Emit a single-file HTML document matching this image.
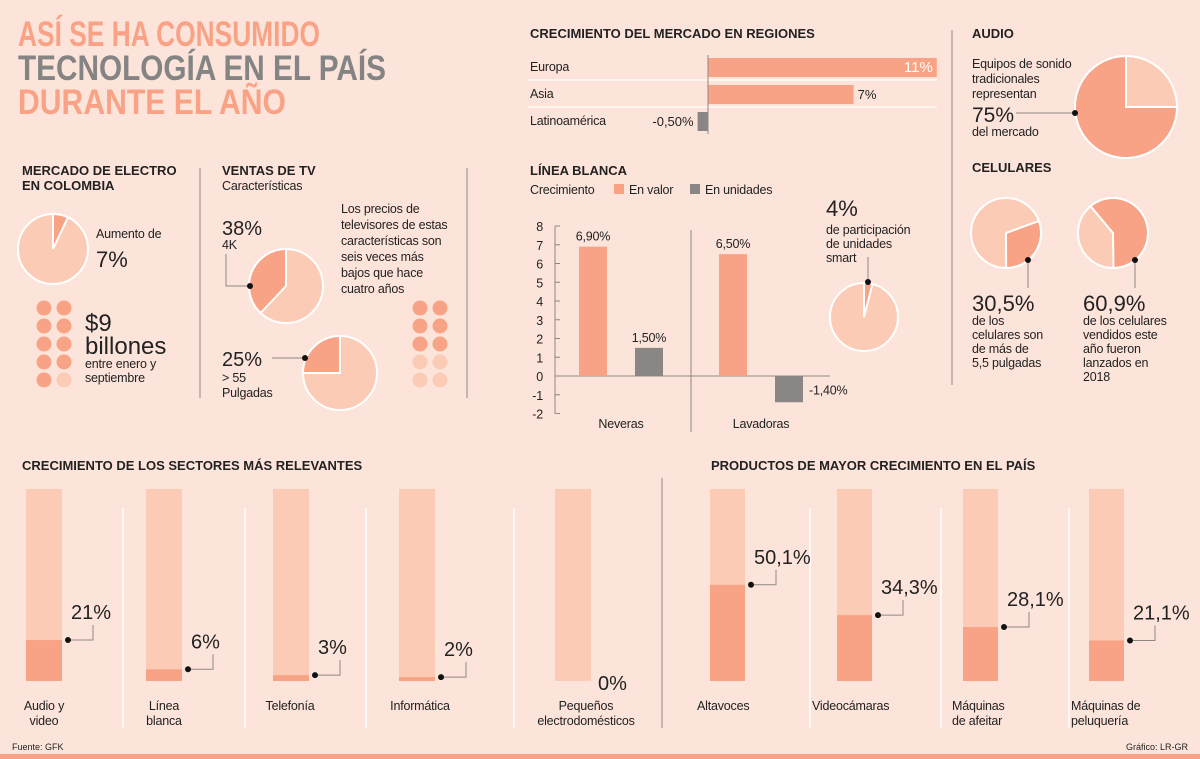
<!DOCTYPE html>
<html><head><meta charset="utf-8"><style>
html,body{margin:0;padding:0;background:#fde4da;}
svg{display:block;font-family:"Liberation Sans",sans-serif;}
.h{font-weight:bold;font-size:13px;fill:#222;}
.t{font-size:12.5px;fill:#222;letter-spacing:-0.2px;}
</style></head><body>
<svg id="s" width="1200" height="759" viewBox="0 0 1200 759">
<rect width="1200" height="759" fill="#fde4da"/>
<g font-weight="bold" font-size="35">
<text x="18" y="46" fill="#f9a285" textLength="302" lengthAdjust="spacingAndGlyphs">ASÍ SE HA CONSUMIDO</text>
<text x="18" y="80" fill="#848484" textLength="368" lengthAdjust="spacingAndGlyphs">TECNOLOGÍA EN EL PAÍS</text>
<text x="18" y="114" fill="#f9a285" textLength="268" lengthAdjust="spacingAndGlyphs">DURANTE EL AÑO</text>
</g>
<g id="dividers" stroke="#8d8784" stroke-width="1">
<line x1="200" y1="168" x2="200" y2="398"/><line x1="467" y1="168" x2="467" y2="398"/>
<line x1="952" y1="30" x2="952" y2="385"/><line x1="662" y1="478" x2="662" y2="728"/>
</g>
<g id="reg"><text class="h" x="530" y="38">CRECIMIENTO DEL MERCADO EN REGIONES</text></g>
<g id="lb">
<text class="h" x="530" y="175">LÍNEA BLANCA</text>
<text class="t" x="530" y="194">Crecimiento</text>
<rect x="614" y="184" width="10" height="10" fill="#f9a386"/><text class="t" x="629" y="194">En valor</text>
<rect x="690" y="184" width="10" height="10" fill="#8a8685"/><text class="t" x="705" y="194">En unidades</text>
</g>
<g>
<text x="826" y="216" font-size="22" fill="#222">4%</text>
<text class="t" x="826" y="234">de participación</text><text class="t" x="826" y="248">de unidades</text><text class="t" x="826" y="262">smart</text>
<line x1="868" y1="257" x2="868" y2="282" stroke="#8d8784"/>
</g>
<g>
<text class="h" x="972" y="38">AUDIO</text>
<text class="t" x="972" y="68" font-size="12">Equipos de sonido</text><text class="t" x="972" y="83" font-size="12">tradicionales</text><text class="t" x="972" y="98" font-size="12">representan</text>
<text x="972" y="122" font-size="21" fill="#222">75%</text><text class="t" x="972" y="136">del mercado</text>
<line x1="1016" y1="113" x2="1075" y2="113" stroke="#8d8784"/>
<text class="h" x="972" y="172">CELULARES</text>
<text x="972" y="311" font-size="22" fill="#222">30,5%</text>
<text class="t" x="972" y="325">de los</text><text class="t" x="972" y="339">celulares son</text><text class="t" x="972" y="353">de más de</text><text class="t" x="972" y="367">5,5 pulgadas</text>
<text x="1083" y="311" font-size="22" fill="#222">60,9%</text>
<text class="t" x="1083" y="325">de los celulares</text><text class="t" x="1083" y="339">vendidos este</text><text class="t" x="1083" y="353">año fueron</text><text class="t" x="1083" y="367">lanzados en</text><text class="t" x="1083" y="381">2018</text>
<line x1="1028" y1="260" x2="1028" y2="288" stroke="#8d8784"/><line x1="1135" y1="260" x2="1135" y2="288" stroke="#8d8784"/>
</g>
<g>
<text class="h" x="22" y="175">MERCADO DE ELECTRO</text><text class="h" x="22" y="190">EN COLOMBIA</text>
<text class="t" x="96" y="238">Aumento de</text><text x="96" y="267" font-size="22" fill="#222">7%</text>
<text x="85" y="331" font-size="24" fill="#222">$9</text><text x="85" y="354" font-size="24" fill="#222">billones</text>
<text class="t" x="85" y="368">entre enero y</text><text class="t" x="85" y="382">septiembre</text>
</g>
<g>
<text class="h" x="222" y="175">VENTAS DE TV</text><text class="t" x="222" y="190">Características</text>
<text x="222" y="235" font-size="20" fill="#222">38%</text><text class="t" x="222" y="249">4K</text>
<polyline points="226,254 226,286 250,286" fill="none" stroke="#8d8784"/>
<text x="222" y="366" font-size="20" fill="#222">25%</text><text class="t" x="222" y="382">&gt; 55</text><text class="t" x="222" y="397">Pulgadas</text>
<line x1="272" y1="358" x2="305" y2="358" stroke="#8d8784"/>
<text class="t" x="341" y="213">Los precios de</text><text class="t" x="341" y="229">televisores de estas</text><text class="t" x="341" y="245">características son</text><text class="t" x="341" y="261">seis veces más</text><text class="t" x="341" y="277">bajos que hace</text><text class="t" x="341" y="293">cuatro años</text>
</g>
<g id="sec"><text class="h" x="22" y="470">CRECIMIENTO DE LOS SECTORES MÁS RELEVANTES</text></g>
<g id="prod"><text class="h" x="711" y="470">PRODUCTOS DE MAYOR CRECIMIENTO EN EL PAÍS</text></g>
<text x="12" y="750" font-size="9" fill="#222">Fuente: GFK</text>
<text x="1188" y="750" font-size="9" fill="#222" text-anchor="end">Gráfico: LR-GR</text>
<rect x="0" y="754" width="1200" height="5" fill="#f9a386"/>
</svg>
<script>
const regionNames=["Europa","Asia","Latinoamérica"];
const regionValues=[11,7,-0.5];
const regionLabels=["11%","7%","-0,50%"];
const lbCategories=["Neveras","Lavadoras"];
const lbValor=[6.9,6.5];
const lbUnidades=[1.5,-1.4];
const lbValorLabels=["6,90%","6,50%"];
const lbUnidadesLabels=["1,50%","-1,40%"];
const lbTicks=[8,7,6,5,4,3,2,1,0,-1,-2];
const sectorNames=[["Audio y","video"],["Línea","blanca"],["Telefonía"],["Informática"],["Pequeños","electrodomésticos"]];
const sectorValues=[21,6,3,2,0];
const sectorLabels=["21%","6%","3%","2%","0%"];
const productNames=[["Altavoces"],["Videocámaras"],["Máquinas","de afeitar"],["Máquinas de","peluquería"]];
const productValues=[50.1,34.3,28.1,21.1];
const productLabels=["50,1%","34,3%","28,1%","21,1%"];
const pieValues={electro:7,tv4k:38,tv55:25,smart:4,audio:75,cel55:30.5,cel2018:60.9};

const NS="http://www.w3.org/2000/svg";
const SAL="#f9a386",LIT="#fccbb5",GRY="#8a8685";
function mk(p,tag,a,txt){const e=document.createElementNS(NS,tag);for(const k in a)e.setAttribute(k,a[k]);if(txt!=null)e.textContent=txt;p.appendChild(e);return e;}
const S=document.getElementById('s');

// regions
const reg=document.getElementById('reg');
const rx=v=>708+v*20.8;
regionNames.forEach((n,i)=>{
 const y=67+i*27;
 const t=mk(reg,'text',{x:530,y:y+4,class:'t'},n);
 
 
 const v=regionValues[i];
 const b=mk(reg,'rect',{x:Math.min(rx(0),rx(v)),y:y-9,width:Math.abs(rx(v)-rx(0)),height:19,fill:v<0?GRY:SAL});
 
 
 const inside=i===0;
 const lx=v<0?rx(v)-4:(inside?rx(v)-4:rx(v)+4);
 const l=mk(reg,'text',{x:lx,y:y+5,'font-size':inside?15:13,fill:inside?'#fff':'#222','text-anchor':(v<0||inside)?'end':'start'},regionLabels[i]);
 
 
 if(i<2)mk(reg,'line',{x1:528,x2:937,y1:y+13,y2:y+13,stroke:'#fff','stroke-width':1.2});
});
mk(reg,'line',{x1:708,x2:708,y1:55,y2:134,stroke:'#8d8784'});

// linea blanca
const lb=document.getElementById('lb');
const ly=v=>376-v*18.75;
mk(lb,'line',{x1:555,x2:555,y1:ly(8),y2:ly(-2),stroke:'#8d8784'});
lbTicks.forEach(t=>{
 mk(lb,'line',{x1:555,x2:560,y1:ly(t),y2:ly(t),stroke:'#8d8784'});
 const e=mk(lb,'text',{x:543,y:ly(t)+5,'text-anchor':'end',class:'t'},t);
 
 
});
mk(lb,'line',{x1:555,x2:830,y1:ly(0),y2:ly(0),stroke:'#8d8784'});
mk(lb,'line',{x1:691,x2:691,y1:230,y2:432,stroke:'#8d8784'});
lbCategories.forEach((c,i)=>{
 const x0=579+i*140;
 const b1=mk(lb,'rect',{x:x0,y:ly(Math.max(0,lbValor[i])),width:28,height:Math.abs(ly(lbValor[i])-ly(0)),fill:SAL});
 
 
 mk(lb,'text',{x:x0+14,y:ly(lbValor[i])-6,'text-anchor':'middle',class:'t'},lbValorLabels[i]);
 const u=lbUnidades[i];
 const b2=mk(lb,'rect',{x:x0+56,y:ly(Math.max(0,u)),width:28,height:Math.abs(ly(u)-ly(0)),fill:GRY});
 
 
 if(u>=0)mk(lb,'text',{x:x0+70,y:ly(u)-6,'text-anchor':'middle',class:'t'},lbUnidadesLabels[i]);
 else mk(lb,'text',{x:x0+90,y:ly(u)-8,class:'t'},lbUnidadesLabels[i]);
 const cl=mk(lb,'text',{x:x0+42,y:428,'text-anchor':'middle',class:'t'},c);
 
 
});

// pies
function pie(name,cx,cy,r,pct,startDeg,dir){
 const g=mk(S,'g',{});
 
 
 mk(g,'circle',{cx,cy,r,fill:LIT,stroke:'#fff','stroke-width':2});
 const a0=startDeg*Math.PI/180,a1=(startDeg+dir*pct*3.6)*Math.PI/180;
 const p=(a)=>[cx+r*Math.sin(a),cy-r*Math.cos(a)];
 const [x0,y0]=p(a0),[x1,y1]=p(a1);
 const large=pct>50?1:0,sw=dir>0?1:0;
 mk(g,'path',{d:`M${cx},${cy}L${x0},${y0}A${r},${r} 0 ${large} ${sw} ${x1},${y1}Z`,fill:SAL,stroke:'#fff','stroke-width':2});
 return g;
}
pie('electro-pie',53,249,35,pieValues.electro,0,1);
pie('tv-4k-pie',286,286,37,pieValues.tv4k,0,-1);
pie('tv-55-pie',340,373,37,pieValues.tv55,0,-1);
pie('smart-pie-chart',864,317,34,pieValues.smart,0,1);
pie('audio-pie',1126,107,51,pieValues.audio,90,1);
pie('cel-55-pie',1006,233,35,pieValues.cel55,70,1);
pie('cel-2018-pie',1113,233,35,pieValues.cel2018,-40,1);
[[250,286],[305,358],[868,282],[1075,113],[1028,260],[1135,260]].forEach(([x,y])=>{
 const d=mk(S,'circle',{cx:x,cy:y,r:3,fill:'#111'});
 
 
});
// dot grids
function grid(name,x,y,nLight){
 for(let r=0;r<5;r++)for(let c=0;c<2;c++){
  const idx=r*2+c;
  const d=mk(S,'circle',{cx:x+c*20,cy:y+r*18,r:7.5,fill:idx>=10-nLight?LIT:SAL});
  
  
 }
}
grid('electro-dot',44,308,1);grid('tv-dot',420,308,4);

// vertical bar groups
function bars(gid,names,vals,labs,xs,w,top,bottom,scale,divs,lx,anchor){
 const G=document.getElementById(gid);
 divs.forEach(x=>mk(G,'line',{x1:x,x2:x,y1:508,y2:728,stroke:'#fff','stroke-width':1.5}));
 names.forEach((n,i)=>{
  const x=xs[i];
  const bg=mk(G,'rect',{x,y:top,width:w,height:bottom-top,fill:LIT});
  
  
  const h=vals[i]*scale, yt=bottom-h;
  const b=mk(G,'rect',{x,y:yt,width:w,height:h,fill:SAL});
  
  
  if(vals[i]>0){
   mk(G,'polyline',{points:`${x+w+6},${yt} ${x+w+31},${yt} ${x+w+31},${yt-15}`,fill:'none',stroke:'#8d8784'});
   mk(G,'circle',{cx:x+w+6,cy:yt,r:3,fill:'#111'});
   const t=mk(G,'text',{x:x+w+9,y:yt-21,'font-size':20,fill:'#222'},labs[i]);
   
   
  } else {
   const t=mk(G,'text',{x:x+w+7,y:bottom+9,'font-size':20,fill:'#222'},labs[i]);
   
   
  }
  n.forEach((ln,j)=>{
   const c=mk(G,'text',{x:lx[i],y:710+j*15,class:'t','text-anchor':anchor},ln);
   
   
  });
 });
}
bars('sec',sectorNames,sectorValues,sectorLabels,[26,146,273,399,555],36,489,681,1.95,[123,245,366,514],[44,164,290,420,586],'middle');
bars('prod',productNames,productValues,productLabels,[710,837,963,1089],35,489,681,1.92,[810,941,1069],[697,812,952,1071],'start');
</script>
</body></html>
